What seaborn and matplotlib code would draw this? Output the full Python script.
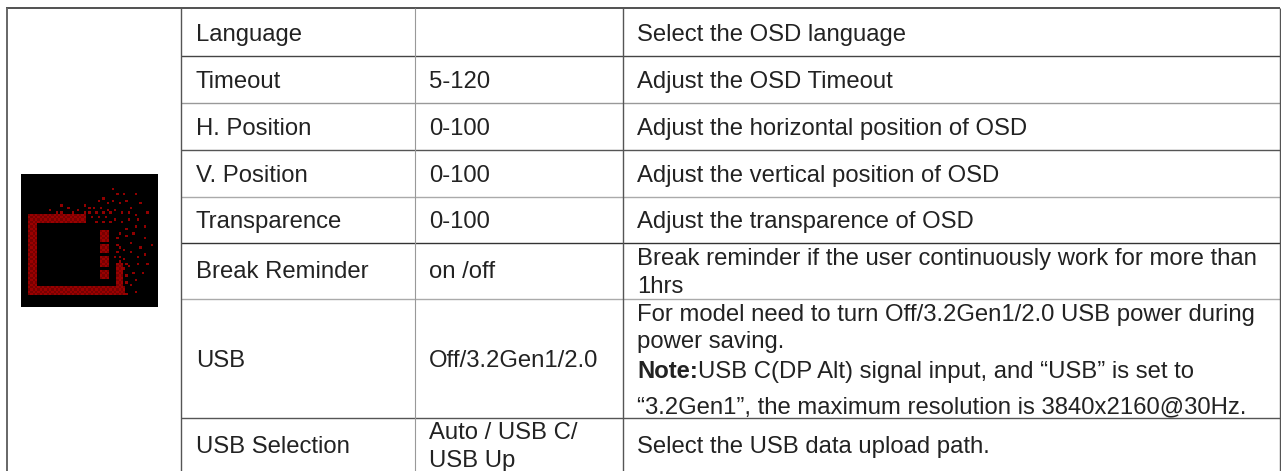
import numpy as np
import seaborn as sns
import matplotlib.pyplot as plt
from matplotlib.colors import LinearSegmentedColormap

# table content
names = ['Language', 'Timeout', 'H. Position', 'V. Position', 'Transparence',
         'Break Reminder', 'USB', 'USB Selection']
ranges = [[], ['5-120'], ['0-100'], ['0-100'], ['0-100'], ['on /off'],
          ['Off/3.2Gen1/2.0'], ['Auto / USB C/', 'USB Up']]
descriptions = [
    ['Select the OSD language'],
    ['Adjust the OSD Timeout'],
    ['Adjust the horizontal position of OSD'],
    ['Adjust the vertical position of OSD'],
    ['Adjust the transparence of OSD'],
    ['Break reminder if the user continuously work for more than', '1hrs'],
    ['For model need to turn Off/3.2Gen1/2.0 USB power during', 'power saving.',
     'USB C(DP Alt) signal input, and \u201cUSB\u201d is set to',
     '\u201c3.2Gen1\u201d, the maximum resolution is 3840x2160@30Hz.'],
    ['Select the USB data upload path.'],
]

# icon: solid parts as (col0, col1, row0, row1) and loose dots as (x, y) on a 59x57 grid
icon_parts = [(3, 7, 17, 52), (3, 28, 17, 21), (3, 45, 48, 52), (41, 44, 38, 48),
              (34, 38, 24, 29), (34, 38, 30, 34), (34, 38, 35, 40), (34, 38, 41, 45)]
icon_dots = [(39, 6), (41, 8), (44, 8), (49, 8), (35, 10), (33, 11), (37, 12), (39, 11),
             (42, 12), (45, 11), (51, 12), (17, 13), (27, 13), (20, 14), (29, 14), (31, 14),
             (34, 14), (37, 15), (40, 15), (47, 14), (54, 16), (12, 15), (15, 16), (17, 16),
             (24, 15), (22, 16), (27, 16), (29, 16), (32, 16), (35, 16), (38, 16), (43, 16),
             (46, 16), (49, 17), (30, 18), (33, 18), (36, 18), (40, 19), (46, 19), (50, 19),
             (32, 20), (35, 20), (38, 20), (43, 20), (49, 22), (53, 22), (45, 23), (42, 25),
             (48, 25), (45, 26), (41, 27), (53, 27), (47, 29), (56, 30), (41, 30), (51, 31),
             (42, 31), (44, 32), (41, 33), (47, 33), (53, 34), (50, 35), (42, 35), (40, 35),
             (44, 36), (42, 37), (45, 38), (50, 38), (54, 38), (46, 39), (44, 40), (43, 41),
             (48, 42), (52, 42), (45, 43), (42, 44), (49, 45), (47, 47), (45, 46), (49, 50),
             (45, 51), (43, 50)]

sns.set_theme(style='white')
plt.rcParams['font.family'] = ['Liberation Sans', 'DejaVu Sans']

fig = plt.figure(figsize=(12.81, 4.71), dpi=100)
ax = fig.add_axes([0, 0, 1, 1])
ax.set_xlim(0, 1281)
ax.set_ylim(471, 0)
ax.axis('off')

# ---- grid lines
row_lines = [(8, '#333333', 1.2), (55.5, '#444444', 1.0), (102.5, '#999999', 1.0),
             (150, '#555555', 1.0), (196.5, '#aaaaaa', 1.0), (242.5, '#333333', 1.0),
             (299, '#aaaaaa', 1.0), (418, '#555555', 1.0)]
for y, c, lw in row_lines:
    ax.hlines(y, 181 if y > 8 else 6, 1280, color=c, lw=lw)
for x, c, lw in [(6.5, '#666666', 1.4), (181, '#555555', 1.0), (414.5, '#999999', 0.8),
                 (622.5, '#555555', 1.0), (1279.5, '#555555', 1.0)]:
    ax.vlines(x, 8, 471, color=c, lw=lw)

# ---- text, y values are baselines
fs = 17.2
col = '#222222'
row_y = [41, 88, 135, 182, 228, 278, 367, 453]
for name, y in zip(names, row_y):
    ax.text(196, y, name, fontsize=fs, color=col, va='baseline')
range_y = [[], [88], [135], [182], [228], [278], [367], [439, 467]]
for vals, ys in zip(ranges, range_y):
    for v, y in zip(vals, ys):
        ax.text(429, y, v, fontsize=fs, color=col, va='baseline')
desc_y = [[41], [88], [135], [182], [228], [265, 293], [321, 348, 378, 413], [453]]
for i, (vals, ys) in enumerate(zip(descriptions, desc_y)):
    for j, (v, y) in enumerate(zip(vals, ys)):
        x = 637
        if i == 6 and j == 2:
            t = ax.text(x, y, 'Note:', fontsize=fs, color=col, va='baseline', fontweight='bold')
            fig.canvas.draw()
            x = ax.transData.inverted().transform(t.get_window_extent().get_points())[1][0]
        ax.text(x, y, v, fontsize=fs, color=col, va='baseline')

# ---- icon
icon = np.zeros((57, 59))
for c0, c1, r0, r1 in icon_parts:
    for r in range(r0, r1):
        for c in range(c0, c1):
            icon[r, c] = 0.8 if (r + c) % 2 else 0.62
for c, r in icon_dots:
    icon[r, c] = 0.75

red = LinearSegmentedColormap.from_list('icon', ['#000000', '#c00000'])
iax = fig.add_axes([21 / 1281, 1 - 307 / 471, 137 / 1281, 133 / 471])
sns.heatmap(icon, ax=iax, cmap=red, vmin=0, vmax=1, cbar=False,
            xticklabels=False, yticklabels=False)

fig.savefig('out.png', dpi=100)
